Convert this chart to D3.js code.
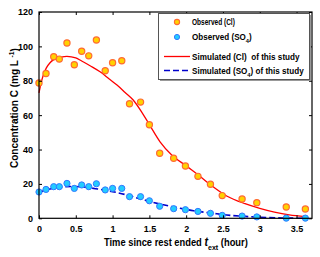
<!DOCTYPE html>
<html><head><meta charset="utf-8">
<script src="https://cdn.jsdelivr.net/npm/d3@7"></script>
<style>
html,body{margin:0;padding:0;background:#fff;}
svg{display:block;}
text{font-family:"Liberation Sans",Arial,sans-serif;font-weight:bold;}
</style></head>
<body><svg id="c" width="320" height="257"></svg>
<script>
const obsClX = [0,0.095,0.2,0.276,0.38,0.48,0.58,0.676,0.78,0.9,1.0,1.125,1.23,1.38,1.5,1.64,1.83,1.99,2.16,2.33,2.49,2.76,2.96,3.36,3.62];
const obsClY = [78.7,84.2,94,92.6,102,89.3,97.2,94.5,103.7,85.8,90.5,91.6,66.6,67.6,54.4,37.8,34.9,30.4,24.4,19.8,13.2,11.2,9.1,6.6,5.4];
const obsSO4X = obsClX;
const obsSO4Y = [15.3,16.8,18.4,18.4,20.3,17.4,19.4,18.4,20.1,16.5,17.4,17.4,12.6,12.6,10.2,7,5.6,5.0,4.0,2.9,1.7,1.3,0.8,0.1,0.1];
const simClX = [0,0.03,0.06,0.1,0.15,0.2,0.3,0.38,0.5,0.58,0.7,0.83,0.95,1.06,1.17,1.28,1.4,1.5,1.645,1.8,2.0,2.2,2.33,2.55,2.8,3.0,3.2,3.4,3.62];
const simClY = [73,79,83.5,87.5,90.5,92.3,93.8,94.2,93.3,91.5,88.6,85.2,81.2,77.5,73.2,68.8,61.5,54.5,44.5,37,30.5,24,19.5,13,8.5,5.8,3.6,2,1];
const simSO4X = [0,0.1,0.2,0.3,0.45,0.6,0.8,1.0,1.2,1.4,1.645,1.9,2.1,2.35,2.55,2.8,3.0,3.3,3.62];
const simSO4Y = [15,16.5,17.5,18.2,18.5,18.2,17,15.5,13.5,11,8.3,6,4.4,3,1.9,1.1,0.6,0.2,0];
const xTicks = [0,0.5,1,1.5,2,2.5,3,3.5];
const yTicks = [0,20,40,60,80,100,120];
const legendLabels = [["Observed (Cl)"],["Observed (SO","4",")"],["Simulated (Cl)\u00a0\u00a0of this study"],["Simulated (SO","4",") of this study"]];

const svg = d3.select("#c");
const L=39, R=312, T=12, B=218.3;
const x = d3.scaleLinear().domain([0,3.71]).range([L,R]);
const y = d3.scaleLinear().domain([0,120]).range([B,T]);

function fitX(g, target){
  const w = g.node().getBBox().width;
  return w>0 ? target/w : 1;
}

const line = d3.line().x(d=>x(d[0])).y(d=>y(d[1])).curve(d3.curveMonotoneX);
svg.append("path").datum(simClX.map((v,i)=>[v,simClY[i]])).attr("d",line)
  .attr("fill","none").attr("stroke","#ff0000").attr("stroke-width",1.3);
svg.append("path").datum(simSO4X.map((v,i)=>[v,simSO4Y[i]])).attr("d",line)
  .attr("fill","none").attr("stroke","#0000cc").attr("stroke-width",1.6).attr("stroke-dasharray","6,3");

svg.append("g").selectAll("circle").data(obsSO4X.map((v,i)=>[v,obsSO4Y[i]])).join("circle")
  .attr("cx",d=>x(d[0])).attr("cy",d=>y(d[1])).attr("r",3.1)
  .attr("fill","#22ccff").attr("stroke","#3377ff").attr("stroke-width",1);
svg.append("g").selectAll("circle").data(obsClX.map((v,i)=>[v,obsClY[i]])).join("circle")
  .attr("cx",d=>x(d[0])).attr("cy",d=>y(d[1])).attr("r",3.1)
  .attr("fill","#ffd200").attr("stroke","#ff6a33").attr("stroke-width",1.2);

const fs = 9;
const xb = svg.append("g").attr("transform",`translate(0,${B})`)
  .call(d3.axisBottom(x).tickValues(xTicks).tickSizeInner(-3).tickSizeOuter(0).tickPadding(7).tickFormat(d3.format("")));
const xt = svg.append("g").attr("transform",`translate(0,${T})`)
  .call(d3.axisTop(x).tickValues(xTicks).tickSizeInner(-3).tickSizeOuter(0).tickFormat(""));
const yl = svg.append("g").attr("transform",`translate(${L},0)`)
  .call(d3.axisLeft(y).tickValues(yTicks).tickSizeInner(-3).tickSizeOuter(0).tickPadding(6));
const yr = svg.append("g").attr("transform",`translate(${R},0)`)
  .call(d3.axisRight(y).tickValues(yTicks).tickSizeInner(-3).tickSizeOuter(0).tickFormat(""));
[xb,xt,yl,yr].forEach(g=>{
  g.select(".domain").remove();
  g.selectAll("line").attr("stroke","#000");
  g.selectAll("text").attr("font-size",fs).attr("fill","#000")
   .style("font-family",'"Liberation Sans",Arial,sans-serif').style("font-weight","bold");
});
svg.append("rect").attr("x",L).attr("y",T).attr("width",R-L).attr("height",B-T)
  .attr("fill","none").attr("stroke","#000").attr("stroke-width",1.2);

const lg = svg.append("g");
lg.append("rect").attr("x",160).attr("y",15).attr("width",151).attr("height",66).attr("fill","#999");
lg.append("rect").attr("x",158.5).attr("y",13.5).attr("width",151).attr("height",66)
  .attr("fill","#fff").attr("stroke","#555").attr("stroke-width",1);
const rowY = [22,37,56.5,70.5];
const rowW = [43,60,108,112];
lg.append("circle").attr("cx",177).attr("cy",rowY[0]).attr("r",2.6).attr("fill","#ffd200").attr("stroke","#ff6a33").attr("stroke-width",1.1);
lg.append("circle").attr("cx",177).attr("cy",rowY[1]).attr("r",2.6).attr("fill","#22ccff").attr("stroke","#3377ff").attr("stroke-width",1);
lg.append("line").attr("x1",164).attr("x2",190).attr("y1",rowY[2]).attr("y2",rowY[2]).attr("stroke","#ff0000").attr("stroke-width",1.3);
lg.append("line").attr("x1",164).attr("x2",190).attr("y1",rowY[3]).attr("y2",rowY[3]).attr("stroke","#0000cc").attr("stroke-width",1.6).attr("stroke-dasharray","6,3");
legendLabels.forEach((lab,i)=>{
  const g = lg.append("g");
  const t = g.append("text").attr("x",0).attr("y",0).attr("font-size",8.5).attr("fill","#000");
  t.append("tspan").text(lab[0]);
  if(lab.length>2){
    t.append("tspan").attr("font-size",6).attr("dy",3).text(lab[1]);
    t.append("tspan").attr("dy",-3).text(lab[2]);
  }
  const s = fitX(t, rowW[i]);
  g.attr("transform",`translate(192,${rowY[i]+3}) scale(${s},1)`);
});

const xg = svg.append("g");
const xt2 = xg.append("text").attr("x",0).attr("y",0).attr("font-size",10.5).attr("fill","#000");
xt2.append("tspan").text("Time since rest ended ");
xt2.append("tspan").attr("font-style","italic").attr("font-size",12).text("t");
xt2.append("tspan").attr("font-size",8).attr("dy",4).text("ext");
xt2.append("tspan").attr("dy",-4).text(" (hour)");
xg.attr("transform",`translate(104,246) scale(${fitX(xt2,144)},1)`);

const yg = svg.append("g");
const yt = yg.append("text").attr("x",0).attr("y",0).attr("font-size",10.5).attr("fill","#000");
yt.append("tspan").text("Concentration C (mg L ");
yt.append("tspan").attr("font-size",7).attr("dy",-4).text("-1");
yt.append("tspan").attr("dy",4).text(")");
yg.attr("transform",`translate(18,168) rotate(-90) scale(${fitX(yt,120)},1)`);
</script></body></html>
